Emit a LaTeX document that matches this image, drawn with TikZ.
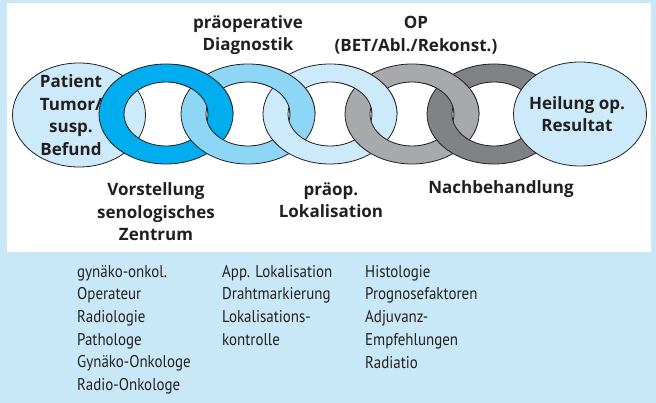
\documentclass[tikz,border=0pt]{standalone}
\usepackage{fontspec}
\setmainfont{PT Sans}[FakeStretch=0.88]
\newfontfamily\stagefont{Open Sans}
\usetikzlibrary{shapes.geometric}
\definecolor{panelblue}{RGB}{200,232,248}
\definecolor{linkcyan}{RGB}{0,174,239}
\definecolor{linkmid}{RGB}{142,214,246}
\definecolor{linklight}{RGB}{204,234,250}
\definecolor{linkgray}{RGB}{167,169,172}
\definecolor{linkdark}{RGB}{128,130,133}
\definecolor{ink}{RGB}{35,31,32}
\tikzstyle{endpoint}=[ellipse, draw=ink, fill=linklight, line width=0.8pt, minimum width=133pt, minimum height=104pt, inner sep=0pt]
\tikzstyle{stage}=[align=center, inner sep=0pt, text=ink, font=\stagefont\bfseries\fontsize{17}{22.5}\selectfont]
\tikzstyle{tasks}=[align=left, anchor=north west, inner sep=0pt, text=ink, font=\fontsize{17}{22.7}\selectfont]
\newcommand{\chainlink}[2]{%
  \filldraw[even odd rule, fill=#2, draw=ink, line width=0.8pt]
    (#1,114) ellipse [x radius=67pt, y radius=50pt]
    (#1,114) ellipse [x radius=42pt, y radius=32pt];}

\begin{document}
\begin{tikzpicture}[x=1pt, y=-1pt]
      \useasboundingbox (0,0) rectangle (656,403);
      \fill[panelblue] (0,0) rectangle (656,403);
      \fill[white] (7,3) rectangle (651,252);

      \node[endpoint] (patient) at (79,115) {};
      \node[stage] (patient text) at (71,115) {Patient\\Tumor/\\susp.\\Befund};

      % the chain, each link over the next one at the top crossing
      \foreach \cx/\col in {166/linkcyan, 248/linkmid, 330/linklight, 412/linkgray, 494/linkdark}
        \chainlink{\cx}{\col};
      \foreach \cx/\col in {166/linkcyan, 248/linkmid, 330/linklight, 412/linkgray} {
        \begin{scope}
          \clip (\cx+10,114.5) rectangle (\cx+72,55);
          \chainlink{\cx}{\col}
        \end{scope}
      }

      \node[endpoint] (heilung) at (580,114) {};
      \node[stage] (heilung text) at (577,114) {Heilung op.\\Resultat};

      \node[stage] (diagnostik) at (248,35) {präoperative\\Diagnostik};
      \node[stage] (op) at (416,35) {OP\\(BET/Abl./Rekonst.)};
      \node[stage] (vorstellung) at (156,212) {Vorstellung\\senologisches\\Zentrum};
      \node[stage] (lokalisation) at (331,200) {präop.\\Lokalisation};
      \node[stage] (nachbehandlung) at (501,189) {Nachbehandlung};

      \node[tasks] (team) at (77,265) {gynäko-onkol.\\Operateur\\Radiologie\\Pathologe\\Gynäko-Onkologe\\Radio-Onkologe};
      \node[tasks] (markierung) at (222,265) {App. Lokalisation\\Drahtmarkierung\\Lokalisations-\\kontrolle};
      \node[tasks] (histologie) at (365,265) {Histologie\\Prognosefaktoren\\Adjuvanz-\\Empfehlungen\\Radiatio};
    \end{tikzpicture}
\end{document}
